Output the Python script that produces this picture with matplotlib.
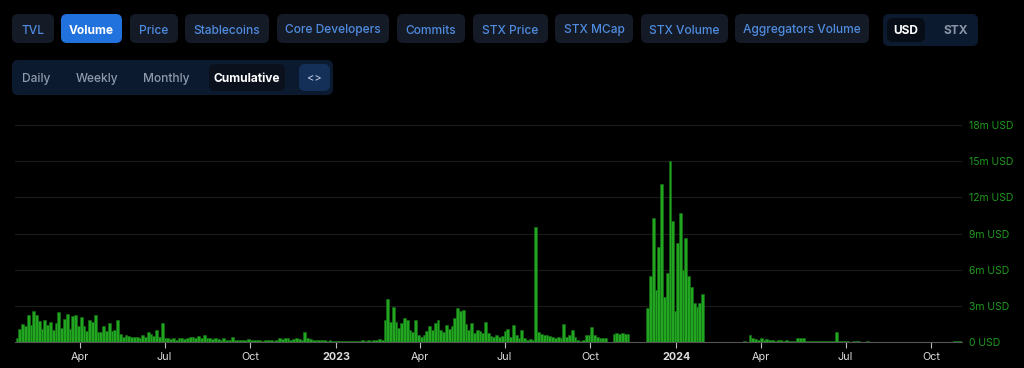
import datetime as dt
import matplotlib
matplotlib.use("Agg")
import matplotlib.pyplot as plt
from matplotlib.patches import FancyBboxPatch

plt.rcParams['font.family'] = ['Inter', 'DejaVu Sans']

# Daily volume (USD m), read as 3-day buckets, month by month
start_2022 = dt.date(2022, 1, 22)
vol_2022 = [
    0.3, 1.1, 1.5,                                            # Jan
    1.3, 2.2, 1.4, 2.6, 2.2, 1.75, 1.1, 1.8, 1.4, 1.7,        # Feb
    1.0, 1.55, 2.5, 1.2, 1.9, 2.3, 1.1, 2.15, 2.25, 1.3,      # Mar
    2.1, 1.3, 0.9, 1.8, 1.65, 2.25, 0.8, 0.85, 1.35, 0.9,     # Apr
    1.55, 0.9, 1.0, 1.8, 0.7, 0.45, 0.6, 0.5, 0.4, 0.45,      # May
    0.4, 0.35, 0.6, 0.45, 0.8, 0.65, 0.5, 1.0, 0.4, 1.55,     # Jun
    0.35, 0.3, 0.25, 0.3, 0.2, 0.3, 0.35, 0.25, 0.3, 0.4, 0.45,  # Jul
    0.35, 0.5, 0.3, 0.55, 0.35, 0.3, 0.25, 0.3, 0.25, 0.2,    # Aug
    0.3, 0.15, 0.2, 0.4, 0.2, 0.15, 0.2, 0.15, 0.2, 0.25,     # Sep
    0.15, 0.2, 0.15, 0.2, 0.1, 0.15, 0.2, 0.15, 0.1, 0.2,     # Oct
    0.3, 0.25, 0.35, 0.3, 0.2, 0.25, 0.3, 0.25, 0.2, 0.85,    # Nov
    0.3, 0.25, 0.2, 0.2, 0.15, 0.2, 0.15, 0.1, 0.15, 0.1, 0.1,  # Dec
]

start_2023 = dt.date(2023, 1, 1)
vol_2023 = [
    0.1, 0.05, 0.1, 0.05, 0.1, 0.1, 0.05, 0.1, 0.1, 0.15,     # Jan
    0.1, 0.15, 0.1, 0.2, 0.15, 0.25, 0.2, 1.85, 3.6, 1.7,     # Feb
    2.9, 1.7, 1.15, 1.6, 2.0, 1.85, 1.0, 0.8, 1.8, 0.6,       # Mar
    0.45, 0.6, 0.9, 1.3, 1.0, 1.6, 1.8, 1.0, 0.8, 1.45,       # Apr
    1.1, 1.3, 2.0, 2.8, 2.55, 2.65, 1.5, 1.0, 1.6, 0.75,      # May
    1.0, 0.9, 0.75, 1.65, 0.75, 0.5, 0.45, 0.6, 0.45, 0.5,    # Jun
    0.9, 1.1, 0.4, 1.45, 0.6, 0.3, 1.0, 0.35, 0.2, 0.25, 0.15,  # Jul
    9.5, 0.8, 0.7, 0.6, 0.55, 0.5, 0.4, 0.35, 0.45, 0.35,     # Aug
    1.5, 0.4, 0.6, 1.0, 0.45, 0.2, 0.1, 0.15, 0.6, 0.55,      # Sep
    1.25, 0.6, 0.4, 0.35, 0.3, 0.35, 0.0, 0.0, 0.7, 0.75,     # Oct
    0.7, 0.75, 0.7, 0.65, 0.0, 0.0, 0.0, 0.0, 0.0, 0.0,       # Nov
    2.8, 5.5, 10.3, 4.3, 7.9, 13.1, 3.75, 5.7, 15.0, 10.0, 2.6,  # Dec
]

start_2024 = dt.date(2024, 1, 1)
vol_2024 = [
    8.2, 10.7, 6.0, 8.6, 5.5, 4.6, 3.2, 2.9, 3.2, 4.0,        # Jan
    0.03, 0.02, 0.02, 0.03, 0.02, 0.02, 0.03, 0.02, 0.03, 0.03,  # Feb
    0.02, 0.03, 0.02, 0.03, 0.05, 0.04, 0.55, 0.3, 0.25, 0.2,  # Mar
    0.3, 0.2, 0.25, 0.15, 0.2, 0.12, 0.15, 0.2, 0.1, 0.15,    # Apr
    0.1, 0.08, 0.1, 0.35, 0.3, 0.35, 0.12, 0.1, 0.08, 0.1, 0.12,  # May
    0.1, 0.12, 0.1, 0.08, 0.1, 0.1, 0.85, 0.1, 0.08, 0.05,    # Jun
    0.05, 0.04, 0.05, 0.06, 0.05, 0.04, 0.03, 0.05, 0.04, 0.03,  # Jul
    0.03, 0.04, 0.03, 0.03, 0.02, 0.03, 0.04, 0.03, 0.02, 0.03,  # Aug
    0.02, 0.02, 0.03, 0.02, 0.02, 0.02, 0.02, 0.03, 0.02, 0.02,  # Sep
    0.01, 0.01, 0.01, 0.01, 0.01, 0.01, 0.01, 0.01, 0.08, 0.1, 0.08,  # Oct
    0.1,                                                      # Nov
]

metric_tabs = ["TVL", "Volume", "Price", "Stablecoins", "Core Developers", "Commits",
               "STX Price", "STX MCap", "STX Volume", "Aggregators Volume"]
period_tabs = ["Daily", "Weekly", "Monthly", "Cumulative"]
y_ticks_m = [0, 3, 6, 9, 12, 15, 18]

dates, values = [], []
for start, vals in [(start_2022, vol_2022), (start_2023, vol_2023), (start_2024, vol_2024)]:
    for i, v in enumerate(vals):
        dates.append(start + dt.timedelta(days=3 * i))
        values.append(v * 1e6)

fig = plt.figure(figsize=(10.24, 3.68), dpi=100, facecolor='black')

# ---- chart ----
ax = fig.add_axes([15 / 1024, 26 / 368, 947 / 1024, 217 / 368])
ax.set_facecolor('black')
ax.bar(dates, values, width=3, align='edge', color='#22a622', edgecolor='#137313', linewidth=0.4)
ax.set_ylim(0, 18e6)
ax.set_xlim(dt.datetime(2022, 1, 21, 10), dt.datetime(2024, 11, 3))
ax.set_yticks([t * 1e6 for t in y_ticks_m])
ax.set_yticklabels(["0 USD" if t == 0 else f"{t}m USD" for t in y_ticks_m])
ax.yaxis.tick_right()
ax.tick_params(axis='y', length=0, pad=5, labelcolor='#1f9a1f', labelsize=7.5)
ax.grid(axis='y', color='#1c1c1c', linewidth=0.8)
ax.set_axisbelow(True)

xt = [dt.date(2022, 4, 1), dt.date(2022, 7, 1), dt.date(2022, 10, 1), dt.date(2023, 1, 1),
      dt.date(2023, 4, 1), dt.date(2023, 7, 1), dt.date(2023, 10, 1), dt.date(2024, 1, 1),
      dt.date(2024, 4, 1), dt.date(2024, 7, 1), dt.date(2024, 10, 1)]
ax.set_xticks(xt)
ax.set_xticklabels([str(d.year) if d.month == 1 else d.strftime('%b') for d in xt])
for lbl, d in zip(ax.get_xticklabels(), xt):
    if d.month == 1:
        lbl.set_fontweight('bold')
ax.tick_params(axis='x', length=4, color='#bbbbbb', labelcolor='#dddddd', labelsize=7.8, pad=3)
for s in ['top', 'right', 'left']:
    ax.spines[s].set_visible(False)
ax.spines['bottom'].set_color('#555555')
ax.spines['bottom'].set_linewidth(0.8)

# ---- UI overlay in pixel coords ----
ui = fig.add_axes([0, 0, 1, 1], zorder=-1)
ui.set_xlim(0, 1024)
ui.set_ylim(368, 0)
ui.axis('off')
ui.patch.set_alpha(0)


def pill(x0, y0, x1, y1, fc, r=6):
    ui.add_patch(FancyBboxPatch((x0 + r, y0 + r), x1 - x0 - 2 * r, y1 - y0 - 2 * r,
                                boxstyle=f"round,pad={r}", fc=fc, ec='none'))


btn_x = [(12, 54), (61, 122), (130, 178), (185, 269), (277, 389), (397, 465),
         (473, 548), (555, 633), (641, 728), (735, 869)]
for (x0, x1), name in zip(btn_x, metric_tabs):
    sel = name == "Volume"
    pill(x0, 14, x1, 43, '#2172dc' if sel else '#141b26')
    ui.text((x0 + x1) / 2, 30.5, name, ha='center', va='center', fontsize=8.6,
            color='white' if sel else '#4f8be0', fontweight='bold' if sel else 'medium')

pill(883, 14, 978, 46, '#0c1a30')
pill(887, 18, 925, 42, '#070d17')
ui.text(906, 31.5, "USD", ha='center', va='center', fontsize=8.6, color='white', fontweight='bold')
ui.text(956, 31.5, "STX", ha='center', va='center', fontsize=8.6, color='#8a95a8', fontweight='bold')

pill(12, 60, 333, 95, '#0c1a30')
pill(209, 64, 285, 91, '#0a111d')
pill(299, 64, 330, 91, '#143058')
for cx, name in zip([36, 97, 166, 247], period_tabs):
    sel = name == "Cumulative"
    ui.text(cx, 79, name, ha='center', va='center', fontsize=8.6,
            color='white' if sel else '#8f9aab', fontweight='bold' if sel else 'medium')
ui.text(314, 78, "<>", ha='center', va='center', fontsize=8, color='#c8d4e8')

# watermark
pill(463, 220, 489, 248, '#2e2e2e', r=5)
ui.text(497, 234, "DefiLlama", ha='left', va='center', fontsize=8.5, color='#555555', fontweight='bold')

fig.savefig('out.png', dpi=100, facecolor='black')
